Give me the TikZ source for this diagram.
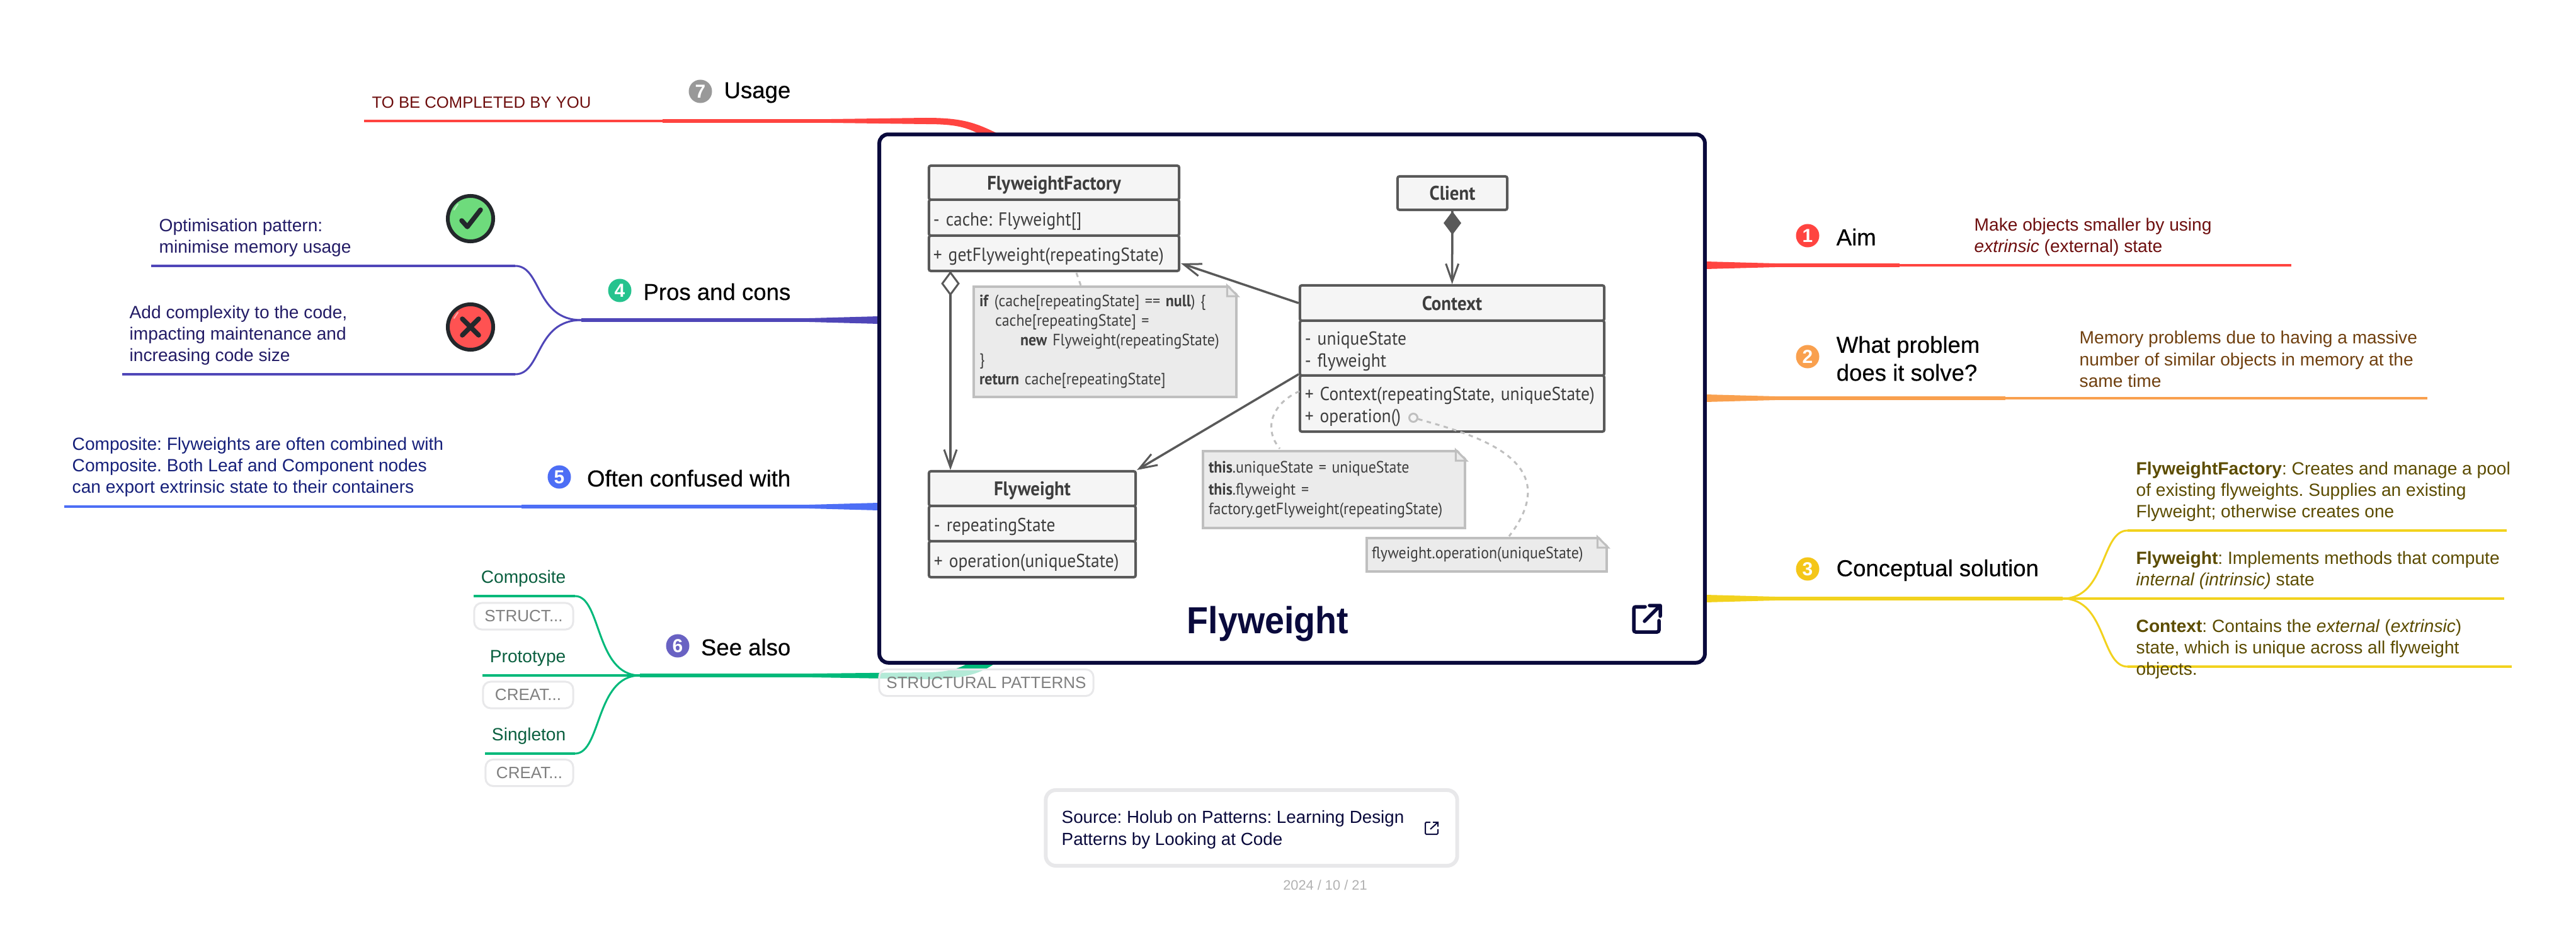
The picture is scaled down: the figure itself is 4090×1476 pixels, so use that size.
\documentclass[tikz,border=0pt]{standalone}
\usepackage{fontspec}
\setmainfont{Liberation Sans}
\newfontfamily\umlfont[FakeStretch=0.92]{PT Sans}
\newfontfamily\titlefont[FakeStretch=0.93]{Liberation Sans}
\usepackage{tikz}
\usetikzlibrary{arrows.meta,positioning,calc,shapes.geometric}
\definecolor{navy}{HTML}{0A0A3C}
\definecolor{umlline}{HTML}{595959}
\definecolor{umlfill}{HTML}{F5F5F5}
\definecolor{noteline}{HTML}{BFBFBF}
\definecolor{notefill}{HTML}{EBEBEB}
\definecolor{tagline}{HTML}{E8E8EA}
\definecolor{redln}{HTML}{FF4440}
\definecolor{orangeln}{HTML}{F9A04E}
\definecolor{yellowln}{HTML}{F2D21E}
\definecolor{greenln}{HTML}{00B97A}
\definecolor{blueln}{HTML}{4D6EF5}
\definecolor{purpleln}{HTML}{4F46B8}
\definecolor{redtx}{HTML}{6E0F0F}
\definecolor{orangetx}{HTML}{70400F}
\definecolor{yellowtx}{HTML}{5C4C00}
\definecolor{greentx}{HTML}{0B6040}
\definecolor{bluetx}{HTML}{16207A}
\definecolor{purpletx}{HTML}{231C66}
\definecolor{okfill}{HTML}{6EDB7C}
\definecolor{badfill}{HTML}{FF5252}
\definecolor{iconline}{HTML}{23272B}
\begin{document}
\frenchspacing\hyphenpenalty=10000\exhyphenpenalty=10000
\begin{tikzpicture}[
    x=0.01cm, y=-0.01cm,
    branch/.style={font=\fontsize{10.4}{12.6}\selectfont\addfontfeature{FakeBold=0.35}, text=black, anchor=west, align=left, inner sep=0pt, yshift=-0.02cm},
    leaf/.style={font=\fontsize{8}{9.7}\selectfont, anchor=west, align=left, inner sep=0pt, yshift=-0.03cm},
    badge/.style={circle, inner sep=0pt, minimum size=0.37cm, text=white, font=\fontsize{8.5}{9}\selectfont\bfseries},
    tag/.style={draw=tagline, line width=0.03cm, rounded corners=0.12cm, fill=white, fill opacity=0.7, text opacity=1, text=gray, font=\fontsize{7.4}{8}\selectfont, inner sep=0pt, minimum height=0.42cm},
    uhead/.style={draw=umlline, fill=umlfill, line width=0.04cm, rounded corners=0.03cm, inner sep=0pt, text height=0.3cm, text depth=0.08cm, font=\umlfont\fontsize{8.9}{10}\selectfont\bfseries, text=umlline!70!black},
    upart/.style={draw=umlline, fill=umlfill, line width=0.04cm, rounded corners=0.03cm, inner sep=0pt, font=\umlfont\fontsize{8.5}{10}\selectfont, text=umlline!70!black, align=left, execute at begin node={\rule{0pt}{0.32cm}}},
    note/.style={draw=noteline, fill=notefill, line width=0.04cm, anchor=north west, inner sep=0pt, font=\umlfont\fontsize{7.4}{8.8}\selectfont, text=umlline!70!black, align=left},
    uarr/.style={draw=umlline, line width=0.035cm, -{Straight Barb[length=0.28cm,width=0.2cm,line width=0.03cm]}},
    noteln/.style={draw=noteline, line width=0.03cm, dash pattern=on 0.07cm off 0.07cm},
    thin/.style={line width=0.04cm},
    fat/.style={line width=0.06cm},
    twig/.style={line width=0.03cm}
  ]
    \useasboundingbox (0,0) rectangle (4090,1476);
    \fill[white] (0,0) rectangle (4090,1476);
    % mind map hubs and free ends
    \coordinate (aimRoot) at (2708,421);
    \coordinate (aimHub) at (3016,421);
    \coordinate (aimEnd) at (3638,421);
    \coordinate (probRoot) at (2708,632);
    \coordinate (probHub) at (3184,632);
    \coordinate (probEnd) at (3854,632);
    \coordinate (solRoot) at (2708,950);
    \coordinate (solHub) at (3275,950);
    \coordinate (solA) at (3378,842);
    \coordinate (solAEnd) at (3980,842);
    \coordinate (solB) at (3976,950);
    \coordinate (solC) at (3378,1058);
    \coordinate (solCEnd) at (3988,1058);
    \coordinate (prosRoot) at (1395,508);
    \coordinate (prosHub) at (923,508);
    \coordinate (prosA) at (818,422);
    \coordinate (prosAEnd) at (240,422);
    \coordinate (prosB) at (818,594);
    \coordinate (prosBEnd) at (194,594);
    \coordinate (confRoot) at (1395,804);
    \coordinate (confHub) at (828,804);
    \coordinate (confEnd) at (102,804);
    \coordinate (seeRoot) at (1396,1072);
    \coordinate (seeHub) at (1016,1072);
    \coordinate (seeA) at (913,946);
    \coordinate (seeAEnd) at (752,946);
    \coordinate (seeB) at (766,1072);
    \coordinate (seeC) at (913,1196);
    \coordinate (seeCEnd) at (770,1196);
    \coordinate (useRoot) at (1460,192);
    \coordinate (useHub) at (1052,192);
    \coordinate (useEnd) at (578,192);
    % branches
    \draw[redln, thin] (aimHub) -- (aimEnd);
    \draw[redln, fat] (aimRoot) -- (aimHub);
    \draw[orangeln, thin] (probHub) -- (probEnd);
    \draw[orangeln, fat] (probRoot) -- (probHub);
    \draw[yellowln, fat] (solRoot) -- (solHub);
    \draw[yellowln, thin] (solHub) -- (solB);
    \draw[yellowln, twig] (solHub) .. controls (3345,950) and (3335,842) .. (solA);
    \draw[yellowln, twig] (solHub) .. controls (3345,950) and (3335,1058) .. (solC);
    \draw[yellowln, thin] (solA) -- (solAEnd);
    \draw[yellowln, thin] (solC) -- (solCEnd);
    \draw[purpleln, fat] (prosRoot) -- (prosHub);
    \draw[purpleln, twig] (prosHub) .. controls (850,508) and (860,422) .. (prosA);
    \draw[purpleln, twig] (prosHub) .. controls (850,508) and (860,594) .. (prosB);
    \draw[purpleln, thin] (prosA) -- (prosAEnd);
    \draw[purpleln, thin] (prosB) -- (prosBEnd);
    \draw[blueln, fat] (confRoot) -- (confHub);
    \draw[blueln, thin] (confHub) -- (confEnd);
    \draw[greenln, fat] (seeRoot) -- (seeHub);
    \draw[greenln, thin] (seeHub) -- (seeB);
    \draw[greenln, twig] (seeHub) .. controls (945,1072) and (955,946) .. (seeA);
    \draw[greenln, twig] (seeHub) .. controls (945,1072) and (955,1196) .. (seeC);
    \draw[greenln, thin] (seeA) -- (seeAEnd);
    \draw[greenln, thin] (seeC) -- (seeCEnd);
    \draw[redln, thin] (useHub) -- (useEnd);
    \draw[redln, fat] (useHub) -- (useRoot);
    % widening into the card
    \foreach \r/\d/\c in {aimRoot/1/redln, probRoot/1/orangeln, solRoot/1/yellowln, prosRoot/-1/purpleln, confRoot/-1/blueln} {
      \fill[\c] ($(\r)+(0,-6)$) -- ($(\r)+(\d*110,-3)$) -- ($(\r)+(\d*110,3)$) -- ($(\r)+(0,6)$) -- cycle;
    }
    \fill[redln] (1320,189) -- (1470,187) .. controls (1530,187) and (1550,195) .. (1590,215) -- (1570,222) .. controls (1540,202) and (1520,197) .. (1470,197) -- (1320,195) -- cycle;
    \fill[greenln] (1290,1069) -- (1470,1067) .. controls (1520,1067) and (1535,1055) .. (1555,1040) -- (1590,1045) .. controls (1560,1070) and (1530,1078) .. (1470,1078) -- (1290,1075) -- cycle;
    % card
    \node[draw=navy, fill=white, line width=0.06cm, rounded corners=0.14cm, minimum width=13.1cm, minimum height=8.38cm, inner sep=0pt] (card) at (2051.5,632.5) {};
    \node[anchor=base, font=\titlefont\fontsize{17}{20}\selectfont\bfseries, text=navy, inner sep=0pt] (cardTitle) at (2013,1005) {Flyweight};
    \coordinate (cardLink) at (2615,982);
    \draw[navy, line width=0.055cm, rounded corners=0.03cm, line cap=round, shift={(cardLink)}] (-3,-19) -- (-21,-19) -- (-21,21) -- (19,21) -- (19,3);
    \draw[navy, line width=0.055cm, line cap=round, line join=round, shift={(cardLink)}] (-4,4) -- (21,-21) (4,-21) -- (21,-21) -- (21,-4);
    % uml
    \node[uhead, minimum width=3.97cm, minimum height=0.54cm] (factoryHead) at (1673.5,290) {FlyweightFactory};
    \node[upart, minimum width=3.97cm, minimum height=0.57cm, text width=3.83cm] (factoryAttr) at (1673.5,345.5) {- cache: Flyweight[]};
    \node[upart, minimum width=3.97cm, minimum height=0.56cm, text width=3.83cm] (factoryOp) at (1673.5,402) {+ getFlyweight(repeatingState)};
    \node[uhead, minimum width=1.74cm, minimum height=0.53cm] (clientHead) at (2306,306.5) {Client};
    \node[uhead, minimum width=4.83cm, minimum height=0.56cm] (contextHead) at (2305.5,481) {Context};
    \node[upart, minimum width=4.83cm, minimum height=0.87cm, text width=4.67cm] (contextAttr) at (2305.5,552.5) {- uniqueState\\- flyweight};
    \node[upart, minimum width=4.83cm, minimum height=0.89cm, text width=4.67cm] (contextOp) at (2305.5,640.5) {+ Context(repeatingState, uniqueState)\\+ operation()};
    \node[uhead, minimum width=3.28cm, minimum height=0.55cm] (flyHead) at (1639,775.5) {Flyweight};
    \node[upart, minimum width=3.28cm, minimum height=0.56cm, text width=3.12cm] (flyAttr) at (1639,831) {- repeatingState};
    \node[upart, minimum width=3.28cm, minimum height=0.57cm, text width=3.12cm] (flyOp) at (1639,887.5) {+ operation(uniqueState)};
    % notes
    \node[note, minimum width=4.17cm, minimum height=1.75cm, text width=3.99cm] (noteCache) at (1544,453) {\textbf{if} (cache[repeatingState] == \textbf{null}) \{\\
      \hspace*{0.25cm}cache[repeatingState] =\\
      \hspace*{0.65cm}\textbf{new} Flyweight(repeatingState)\\
      \}\\
      \textbf{return} cache[repeatingState]};
    \node[note, minimum width=4.16cm, minimum height=1.22cm, text width=3.98cm] (noteCtor) at (1908,714) {\textbf{this}.uniqueState = uniqueState\\[1pt]
      \textbf{this}.flyweight =\\
      factory.getFlyweight(repeatingState)};
    \node[note, minimum width=3.81cm, minimum height=0.53cm, text width=3.65cm] (noteOp) at (2168,852) {flyweight.operation(uniqueState)};
    \foreach \n in {noteCache, noteCtor, noteOp} {
      \fill[white] ($(\n.north east)+(-17,-3)$) -- ($(\n.north east)+(3,-3)$) -- ($(\n.north east)+(3,17)$) -- cycle;
      \draw[noteline, line width=0.03cm, fill=notefill] ($(\n.north east)+(-17,0)$) -- ($(\n.north east)+(-17,17)$) -- ($(\n.north east)+(0,17)$) -- cycle;
    }
    % uml links
    \node[circle, draw=noteline, line width=0.03cm, inner sep=0pt, minimum size=0.13cm] (opDot) at (2244,663) {};
    \coordinate (factoryNote) at (1709,433);
    \draw[noteln] (factoryNote) -- (1716,453);
    \coordinate (ctorDash) at (2063,621);
    \coordinate (ctorNote) at (2032,712);
    \coordinate (opNote) at (2396,851);
    \coordinate (factoryTip) at (1875,418);
    \draw[noteln] (ctorDash) .. controls (2020,640) and (2005,680) .. (ctorNote);
    \draw[noteln] (opDot) .. controls (2340,690) and (2490,730) .. (opNote);
    \coordinate (dashTop) at (1509,432);
    \coordinate (dashEnd) at (1509,746);
    \draw[uarr] (contextHead.west) -- (factoryTip);
    \draw[uarr] (contextOp.north west) -- (flyHead.north east);
    \draw[uarr] (clientHead) -- (contextHead);
    \draw[uarr] (dashTop) -- (dashEnd);
    \node[draw=umlline, fill=umlline, line width=0.01cm, diamond, inner sep=0pt, minimum width=0.27cm, minimum height=0.36cm] (clientDia) at (2306,354) {};
    \node[draw=umlline, fill=white, line width=0.03cm, diamond, inner sep=0pt, minimum width=0.27cm, minimum height=0.36cm] (factoryDia) at (1509,450) {};
    % right side
    \node[badge, fill=redln] (aimBadge) at (2870,374) {1};
    \node[branch] (aimTitle) at (2915,374) {Aim};
    \node[leaf, text=redtx] (aimText) at (3134,373) {Make objects smaller by using\\\textit{extrinsic} (external) state};
    \node[badge, fill=orangeln] (probBadge) at (2870,566) {2};
    \node[branch] (probTitle) at (2915,567) {What problem\\does it solve?};
    \node[leaf, text=orangetx] (probText) at (3301,567) {Memory problems due to having a massive\\number of similar objects in memory at the\\same time};
    \node[badge, fill=yellowln!85!orange] (solBadge) at (2870,903) {3};
    \node[branch] (solTitle) at (2915,903) {Conceptual solution};
    \node[leaf, text=yellowtx] (solTextA) at (3391,777) {\textbf{FlyweightFactory}: Creates and manage a pool\\of existing flyweights. Supplies an existing\\Flyweight; otherwise creates one};
    \node[leaf, text=yellowtx] (solTextB) at (3391,902) {\textbf{Flyweight}: Implements methods that compute\\\textit{internal (intrinsic)} state};
    \node[leaf, text=yellowtx] (solTextC) at (3391,1027) {\textbf{Context}: Contains the \textit{external} (\textit{extrinsic})\\state, which is unique across all flyweight\\objects.};
    % left side
    \node[badge, fill=gray!80] (useBadge) at (1112,145) {7};
    \node[branch, anchor=east] (useTitle) at (1256,145) {Usage};
    \node[leaf, font=\fontsize{7.3}{9.7}\selectfont, text=redtx] (useText) at (590,160) {TO BE COMPLETED BY YOU};
    \node[badge, fill=greenln!85!white] (prosBadge) at (984,461) {4};
    \node[branch, anchor=east] (prosTitle) at (1256,461) {Pros and cons};
    \node[leaf, text=purpletx] (prosTextA) at (252,374) {Optimisation pattern:\\minimise memory usage};
    \node[leaf, text=purpletx] (prosTextB) at (205,529) {Add complexity to the code,\\impacting maintenance and\\increasing code size};
    \node[circle, draw=iconline, fill=okfill, line width=0.06cm, minimum size=0.72cm, inner sep=0pt] (okIcon) at (747,347) {};
    \draw[iconline, line width=0.075cm, line cap=round, line join=round, shift={(okIcon)}] (-14,3) -- (-5,13) -- (16,-14);
    \node[circle, draw=iconline, fill=badfill, line width=0.06cm, minimum size=0.72cm, inner sep=0pt] (badIcon) at (747,519) {};
    \draw[iconline, line width=0.075cm, line cap=round, shift={(badIcon)}] (-13,-13) -- (13,13) (13,-13) -- (-13,13);
    \foreach \n in {okIcon, badIcon} {
      \draw[white, opacity=0.5, line width=0.02cm, line cap=round, shift={(\n)}] (-26,-14) -- (-20,-23);
    }
    \node[badge, fill=blueln] (confBadge) at (888,757) {5};
    \node[branch, anchor=east] (confTitle) at (1256,757) {Often confused with};
    \node[leaf, text=bluetx] (confText) at (114,738) {Composite: Flyweights are often combined with\\Composite. Both Leaf and Component nodes\\can export extrinsic state to their containers};
    \node[badge, fill=purpleln!85!white] (seeBadge) at (1076,1025) {6};
    \node[branch, anchor=east] (seeTitle) at (1256,1025) {See also};
    \node[leaf, anchor=east, text=greentx] (seeTextA) at (899,915) {Composite};
    \node[leaf, anchor=east, text=greentx] (seeTextB) at (899,1042) {Prototype};
    \node[leaf, anchor=east, text=greentx] (seeTextC) at (899,1165) {Singleton};
    \node[tag, minimum width=1.57cm] (tagA) at (831.5,978) {STRUCT...};
    \node[tag, minimum width=1.43cm] (tagB) at (838.5,1103) {CREAT...};
    \node[tag, minimum width=1.39cm] (tagC) at (840.5,1226.5) {CREAT...};
    \node[tag, minimum width=3.4cm] (tagMain) at (1566,1083.5) {STRUCTURAL PATTERNS};
    % source
    \node[draw=tagline, line width=0.06cm, rounded corners=0.16cm, minimum width=6.53cm, minimum height=1.2cm, inner sep=0pt, fill=white] (source) at (1987,1314) {};
    \node[leaf, font=\fontsize{7.9}{10}\selectfont, text=navy, anchor=west] (sourceText) at (1685,1314) {Source: Holub on Patterns: Learning Design\\Patterns by Looking at Code};
    \coordinate (sourceLink) at (2273,1314);
    \draw[navy, line width=0.02cm, rounded corners=0.015cm, shift={(sourceLink)}] (-2,-9) -- (-10,-9) -- (-10,10) -- (10,10) -- (10,2);
    \draw[navy, line width=0.02cm, shift={(sourceLink)}] (-2,2) -- (10,-9) (2,-9) -- (10,-9) -- (10,-2);
    \node[font=\fontsize{6.2}{8}\selectfont, text=black!30, inner sep=0pt] (dateText) at (2104,1405) {2024 / 10 / 21};
\end{tikzpicture}
\end{document}
